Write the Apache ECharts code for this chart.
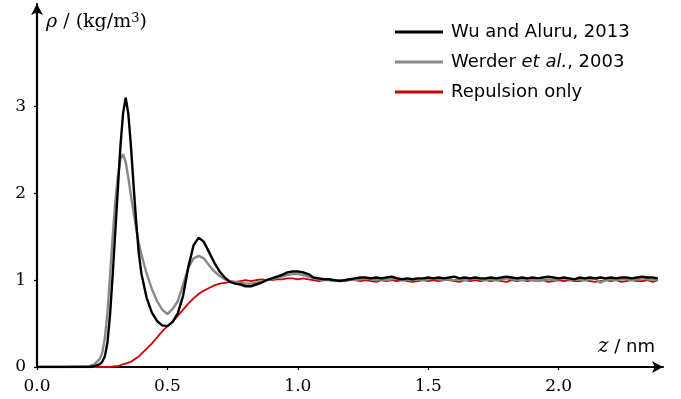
<!DOCTYPE html>
<html>
<head>
<meta charset="utf-8">
<script src="https://cdn.jsdelivr.net/npm/echarts@6/dist/echarts.min.js"></script>
<style>
  html, body { margin: 0; padding: 0; background: #fff; }
  #chart { width: 681px; height: 399px; }
</style>
</head>
<body>
<div id="chart"></div>
<script>
// z / nm, shared sampling for all three profiles
const zNm = [0, 0.1, 0.2, 0.22,
  0.24, 0.25, 0.26, 0.27, 0.28, 0.29, 0.30, 0.31, 0.32, 0.33, 0.34, 0.35, 0.36, 0.37, 0.38, 0.39, 0.40,
  0.42, 0.44, 0.46, 0.48, 0.50, 0.52, 0.54, 0.56, 0.58, 0.60, 0.62, 0.64, 0.66, 0.68, 0.70, 0.72, 0.74, 0.76, 0.78, 0.80,
  0.82, 0.84, 0.86, 0.88, 0.90, 0.92, 0.94, 0.96, 0.98, 1.00, 1.02, 1.04, 1.06, 1.08, 1.10,
  1.12, 1.14, 1.16, 1.18, 1.20, 1.22, 1.24, 1.26, 1.28, 1.30, 1.32, 1.34, 1.36, 1.38, 1.40, 1.42,
  1.44, 1.46, 1.48, 1.50, 1.52, 1.54, 1.56, 1.58, 1.60, 1.62, 1.64, 1.66, 1.68, 1.70, 1.72, 1.74,
  1.76, 1.78, 1.80, 1.82, 1.84, 1.86, 1.88, 1.90, 1.92, 1.94, 1.96, 1.98, 2.00, 2.02, 2.04, 2.06,
  2.08, 2.10, 2.12, 2.14, 2.16, 2.18, 2.20, 2.22, 2.24, 2.26, 2.28, 2.30, 2.32, 2.34, 2.36, 2.38]

// Wu and Aluru, 2013
const rhoWu = [0, 0, 0, 0.01,
  0.03, 0.06, 0.12, 0.28, 0.6, 1.05, 1.55, 2.05, 2.55, 2.92, 3.1, 2.92, 2.55, 2.1, 1.68, 1.32, 1.08,
  0.8, 0.63, 0.53, 0.48, 0.47, 0.52, 0.62, 0.82, 1.15, 1.4, 1.49, 1.44, 1.32, 1.2, 1.1, 1.03, 0.98, 0.96, 0.95, 0.93,
  0.93, 0.95, 0.97, 1.0, 1.02, 1.04, 1.06, 1.09, 1.1, 1.1, 1.09, 1.07, 1.03, 1.02, 1.01,
  1.01, 1.0, 0.99, 1.0, 1.01, 1.02, 1.03, 1.03, 1.02, 1.03, 1.02, 1.03, 1.04, 1.02, 1.01, 1.02,
  1.01, 1.02, 1.02, 1.03, 1.02, 1.03, 1.02, 1.03, 1.04, 1.02, 1.03, 1.02, 1.03, 1.02, 1.02, 1.03,
  1.02, 1.03, 1.04, 1.03, 1.02, 1.03, 1.02, 1.03, 1.02, 1.03, 1.04, 1.03, 1.02, 1.03, 1.02, 1.01,
  1.03, 1.02, 1.03, 1.02, 1.03, 1.02, 1.03, 1.02, 1.03, 1.03, 1.02, 1.03, 1.04, 1.03, 1.03, 1.02]

// Werder et al., 2003
const rhoWerder = [0, 0, 0.01, 0.03,
  0.09, 0.16, 0.33, 0.62, 1.05, 1.5, 1.9, 2.2, 2.4, 2.45, 2.36, 2.18, 1.98, 1.78, 1.6, 1.43, 1.3,
  1.08, 0.9, 0.76, 0.66, 0.61, 0.67, 0.76, 0.95, 1.14, 1.25, 1.28, 1.25, 1.17, 1.1, 1.05, 1.01, 0.99, 0.98, 0.97, 0.96,
  0.96, 0.97, 0.98, 1.0, 1.01, 1.03, 1.04, 1.06, 1.07, 1.07, 1.06, 1.04, 1.02, 1.01, 1.0,
  1.0, 0.99, 1.0, 1.0, 1.01, 1.0, 1.01, 1.02, 1.01, 1.0, 1.01, 1.0, 1.01, 1.02, 1.0, 1.01,
  1.0, 1.01, 1.0, 1.01, 1.02, 1.01, 1.0, 1.01, 1.0, 1.01, 1.0, 1.01, 1.02, 1.01, 1.0, 1.01,
  1.0, 1.01, 1.02, 1.01, 1.0, 1.0, 1.01, 1.0, 0.99, 1.0, 1.01, 1.0, 1.01, 1.02, 1.01, 1.0,
  1.01, 1.0, 1.01, 1.02, 0.97, 1.0, 1.01, 1.0, 1.01, 1.01, 1.0, 1.01, 1.02, 1.01, 1.0, 1.01]

// Repulsion only
const rhoRepulsion = [0, 0, 0, 0,
  0, 0, 0, 0, 0, 0.005, 0.01, 0.01, 0.02, 0.03, 0.04, 0.05, 0.06, 0.08, 0.1, 0.12, 0.15,
  0.21, 0.27, 0.34, 0.41, 0.47, 0.52, 0.59, 0.66, 0.73, 0.79, 0.84, 0.88, 0.91, 0.94, 0.96, 0.97, 0.98, 0.98, 0.99, 1.0,
  0.99, 1.0, 1.01, 1.0, 1.0, 1.01, 1.01, 1.02, 1.02, 1.01, 1.02, 1.01, 1.0, 0.99, 1.0,
  1.0, 0.99, 1.0, 0.99, 1.0, 1.0, 0.99, 1.0, 0.99, 0.98, 1.0, 0.99, 1.0, 0.99, 1.0, 0.99,
  0.98, 0.99, 1.0, 0.99, 1.0, 0.99, 1.0, 1.0, 0.99, 0.98, 1.0, 0.99, 1.0, 0.99, 1.0, 0.99,
  1.0, 0.99, 0.98, 1.0, 0.99, 1.0, 0.99, 1.0, 0.99, 1.0, 0.98, 0.99, 1.0, 0.99, 1.0, 0.99,
  0.99, 1.0, 0.99, 0.98, 0.99, 1.0, 0.99, 1.0, 0.98, 0.99, 1.0, 0.99, 0.99, 1.0, 0.98, 1.0]

const xTicks = [0, 0.5, 1.0, 1.5, 2.0]
const yTicks = [0, 1, 2, 3]

const seriesNames = ['Wu and Aluru, 2013', 'Werder et al., 2003', 'Repulsion only']

const pairs = (ys) => zNm.map((z, i) => [z, ys[i]])

const chart = echarts.init(document.getElementById('chart'), null, { renderer: 'canvas' })

const axisBase = {
  type: 'value',
  splitLine: { show: false },
  axisLine: {
    show: true,
    symbol: ['none', 'arrow'],
    symbolSize: [9, 11],
    lineStyle: { color: '#000', width: 2.2 }
  },
  axisTick: { show: true, length: 3, lineStyle: { color: '#000', width: 1.2 } },
  axisLabel: { color: '#000', fontFamily: 'DejaVu Serif', fontSize: 17 }
}

const option = {
  animation: false,
  backgroundColor: '#fff',
  grid: { left: 37, right: 18, top: 4, bottom: 32 },
  xAxis: {
    ...axisBase,
    min: 0,
    max: 2.4,
    axisTick: { ...axisBase.axisTick, customValues: xTicks },
    axisLabel: { ...axisBase.axisLabel, margin: 11, customValues: xTicks, formatter: (v) => v.toFixed(1) }
  },
  yAxis: {
    ...axisBase,
    min: 0,
    max: 4.18,
    axisTick: { ...axisBase.axisTick, customValues: yTicks },
    axisLabel: { ...axisBase.axisLabel, margin: 11, customValues: yTicks }
  },
  legend: {
    orient: 'vertical',
    left: 395,
    top: 22,
    padding: 0,
    icon: 'rect',
    itemWidth: 48,
    itemHeight: 3,
    itemGap: 10,
    data: seriesNames,
    formatter: (name) => (name === 'Werder et al., 2003' ? '{n|Werder }{i|et al.}{n|, 2003}' : '{n|' + name + '}'),
    textStyle: {
      color: '#000',
      fontFamily: 'DejaVu Sans',
      fontSize: 18,
      lineHeight: 20,
      padding: [0, 0, 0, 3],
      rich: {
        n: { fontFamily: 'DejaVu Sans', fontSize: 18, color: '#000' },
        i: { fontFamily: 'DejaVu Sans', fontStyle: 'italic', fontSize: 18, color: '#000' }
      }
    }
  },
  graphic: [
    {
      type: 'text',
      left: 46,
      top: 12,
      style: {
        text: '{i|ρ}{n| / (kg/m}{s|3}{n|)}',
        rich: {
          i: { fontFamily: 'DejaVu Serif', fontStyle: 'italic', fontSize: 19, fill: '#000' },
          n: { fontFamily: 'DejaVu Serif', fontSize: 19, fill: '#000' },
          s: { fontFamily: 'DejaVu Serif', fontSize: 13, fill: '#000', verticalAlign: 'top', padding: [0, 0, 8, 0] }
        }
      }
    },
    {
      type: 'text',
      right: 26,
      top: 337,
      style: {
        text: '{i|z}{n| / nm}',
        rich: {
          i: { fontFamily: 'DejaVu Serif', fontStyle: 'italic', fontSize: 20, fill: '#000' },
          n: { fontFamily: 'DejaVu Sans', fontSize: 18, fill: '#000' }
        }
      }
    }
  ],
  series: [
    {
      name: 'Repulsion only',
      type: 'line',
      showSymbol: false,
      data: pairs(rhoRepulsion),
      lineStyle: { color: '#cc0000', width: 1.8 },
      itemStyle: { color: '#cc0000' }
    },
    {
      name: 'Werder et al., 2003',
      type: 'line',
      showSymbol: false,
      data: pairs(rhoWerder),
      lineStyle: { color: '#888888', width: 2.4 },
      itemStyle: { color: '#888888' }
    },
    {
      name: 'Wu and Aluru, 2013',
      type: 'line',
      showSymbol: false,
      data: pairs(rhoWu),
      lineStyle: { color: '#000000', width: 2.4 },
      itemStyle: { color: '#000000' }
    }
  ]
}

chart.setOption(option)
</script>
</body>
</html>
